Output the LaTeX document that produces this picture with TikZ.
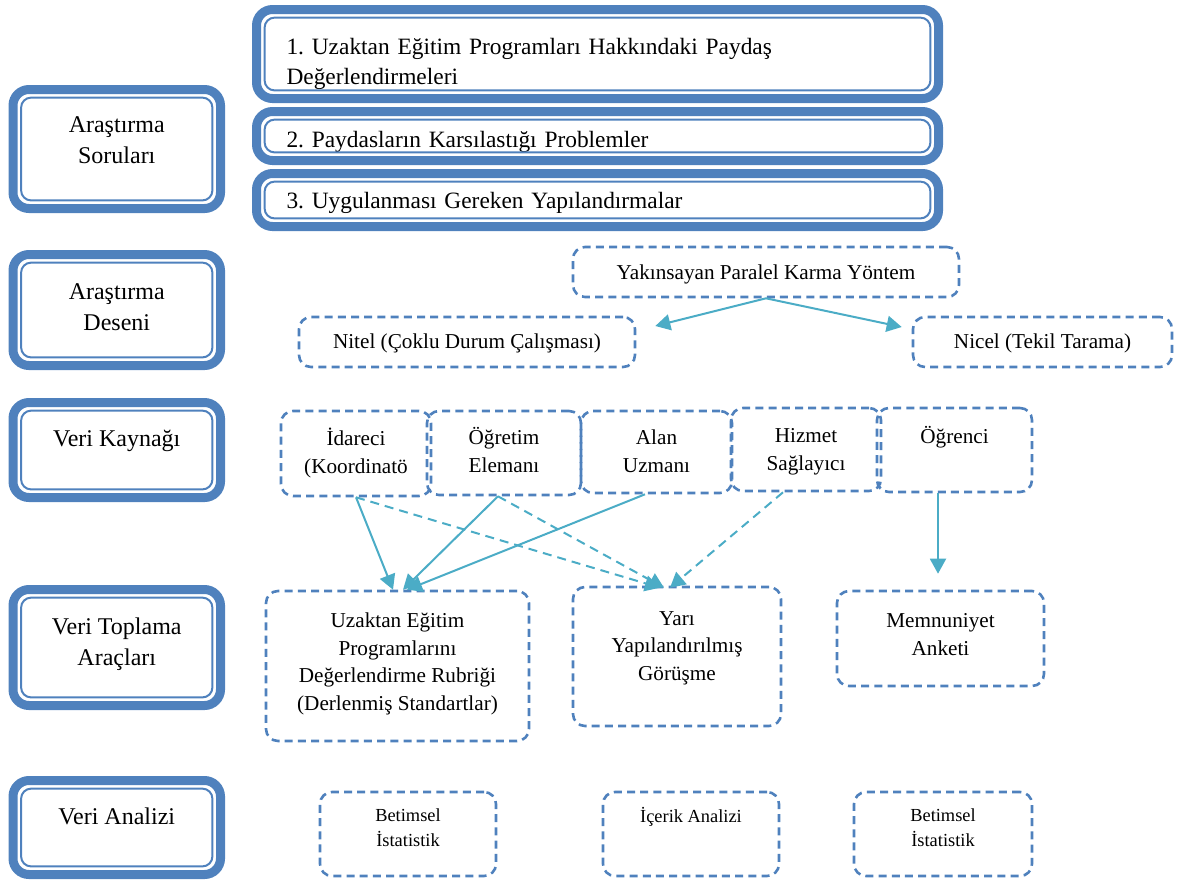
\documentclass[tikz,border=0pt]{standalone}
\usepackage{fontspec}
\setmainfont{Liberation Serif}
\frenchspacing
\usetikzlibrary{arrows.meta}
\definecolor{boxblue}{RGB}{79,129,189}
\definecolor{arrowteal}{RGB}{75,172,198}
\tikzset{
  framebox/.style={draw=boxblue, line width=4.5pt, rounded corners=8pt, align=center, inner sep=2pt, font=\fontsize{12}{15.5}\selectfont},
  questbox/.style={framebox, minimum width=341pt, text width=311pt, align=left, font=\fontsize{11.7}{15}\selectfont},
  dashbox/.style={draw=boxblue, line width=1.3pt, dash pattern=on 4pt off 2.6pt, rounded corners=6pt, align=center, inner sep=2pt, font=\fontsize{10.6}{13.8}\selectfont},
  smallbox/.style={dashbox, minimum height=42pt, font=\fontsize{9.2}{12.5}\selectfont},
  lift/.style={text height=8pt, text depth=#1},
  drop/.style={text height=#1, text depth=0pt},
  solidarrow/.style={draw=arrowteal, line width=1pt, -{Triangle[length=7.5pt,width=8pt]}},
  dasharrow/.style={solidarrow, dash pattern=on 4.5pt off 3pt}
}
\begin{document}
\begin{tikzpicture}[x=0.5pt, y=-0.5pt]
\useasboundingbox (0,0) rectangle (1181,879);

% left column
\node[framebox, minimum width=103.75pt, minimum height=59.5pt, drop=14pt] (soru) at (116.75,149) {Araştırma\\Soruları};
\node[framebox, minimum width=103.75pt, minimum height=55.5pt, drop=20pt] (desen) at (116.75,310) {Araştırma\\Deseni};
\node[framebox, minimum width=103.75pt, minimum height=47.5pt, lift=12pt] (kaynak) at (116.75,450) {Veri Kaynağı};
\node[framebox, minimum width=103.75pt, minimum height=58pt, drop=17.5pt] (toplama) at (116.75,647.5) {Veri Toplama\\Araçları};
\node[framebox, minimum width=103.75pt, minimum height=47pt, lift=11pt] (analiz) at (116.75,827.5) {Veri Analizi};

% research questions
\node[questbox, minimum height=44.5pt, lift=8pt] (q1) at (597.5,54) {1. Uzaktan Eğitim Programları Hakkındaki Paydaş\\Değerlendirmeleri};
\node[questbox, minimum height=24.5pt, drop=11pt] (q2) at (597.5,136) {2. Paydasların Karsılastığı Problemler};
\node[questbox, minimum height=26.5pt, lift=0pt] (q3) at (597.5,200) {3. Uygulanması Gereken Yapılandırmalar};

\foreach \n in {soru,desen,kaynak,toplama,analiz,q1,q2,q3}
  \draw[boxblue, line width=1pt, rounded corners=5pt] ([shift={(6.3pt,6.3pt)}]\n.south west) rectangle ([shift={(-6.3pt,-6.3pt)}]\n.north east);

% design
\node[dashbox, minimum width=193pt, minimum height=25pt, lift=0.5pt] (yakin) at (766,272) {Yakınsayan Paralel Karma Yöntem};
\node[dashbox, minimum width=168pt, minimum height=25pt, lift=1.5pt] (nitel) at (467,342) {Nitel (Çoklu Durum Çalışması)};
\node[dashbox, minimum width=129.5pt, minimum height=25pt, lift=1.5pt] (nicel) at (1042.5,342) {Nicel (Tekil Tarama)};

% data sources
\node[dashbox, minimum width=75pt, minimum height=42.5pt, drop=20pt] (idare) at (356,453.5) {İdareci\\(Koordinatö};
\node[dashbox, minimum width=77pt, minimum height=42pt, drop=19.5pt] (ogretim) at (504,453) {Öğretim\\Elemanı};
\node[dashbox, minimum width=75.5pt, minimum height=41pt, drop=20.5pt] (alan) at (656.5,452) {Alan\\Uzmanı};
\node[dashbox, minimum width=75pt, minimum height=41.5pt, drop=21pt] (hizmet) at (806,449.5) {Hizmet\\Sağlayıcı};
\node[dashbox, minimum width=77.5pt, minimum height=42pt, lift=14.5pt] (ogrenci) at (954.5,450) {Öğrenci};

% data collection tools
\node[dashbox, minimum width=131.5pt, minimum height=75pt, drop=44.5pt] (rubrik) at (397.5,666) {Uzaktan Eğitim\\Programlarını\\Değerlendirme Rubriği\\(Derlenmiş Standartlar)};
\node[dashbox, minimum width=104pt, minimum height=69.5pt, drop=24pt] (gorusme) at (677,656.5) {Yarı\\Yapılandırılmış\\Görüşme};
\node[dashbox, minimum width=103.5pt, minimum height=47.5pt, drop=17pt] (anket) at (940.5,638.5) {Memnuniyet\\Anketi};

% analysis
\node[smallbox, minimum width=88pt, drop=12.5pt] (betim1) at (408,834) {Betimsel\\İstatistik};
\node[smallbox, minimum width=88pt, lift=20pt] (icerik) at (691,834) {İçerik Analizi};
\node[smallbox, minimum width=89pt, drop=12.5pt] (betim2) at (943,834) {Betimsel\\İstatistik};

% arrows
\draw[solidarrow] (yakin.south) -- ([xshift=9.5pt,yshift=8pt]nitel.east);
\draw[solidarrow] (yakin.south) -- ([xshift=-5pt,yshift=7.5pt]nicel.west);

\draw[solidarrow] (idare.south) -- ([xshift=-2.25pt]rubrik.north);
\draw[solidarrow] ([xshift=-3pt]ogretim.south) -- ([xshift=2.75pt]rubrik.north);
\draw[solidarrow] ([xshift=-5.75pt]alan.south) -- ([xshift=4.75pt]rubrik.north);
\draw[dasharrow] (idare.south) -- ([xshift=-8.5pt,yshift=-1pt]gorusme.north);
\draw[dasharrow] ([xshift=-3pt]ogretim.south) -- ([xshift=-6.5pt,yshift=-1pt]gorusme.north);
\draw[dasharrow] ([xshift=-11.5pt]hizmet.south) -- ([xshift=-3.5pt,yshift=-1pt]gorusme.north);
\draw[solidarrow] ([xshift=-8.25pt]ogrenci.south) -- ([xshift=-1.25pt,yshift=8pt]anket.north);
\end{tikzpicture}
\end{document}
